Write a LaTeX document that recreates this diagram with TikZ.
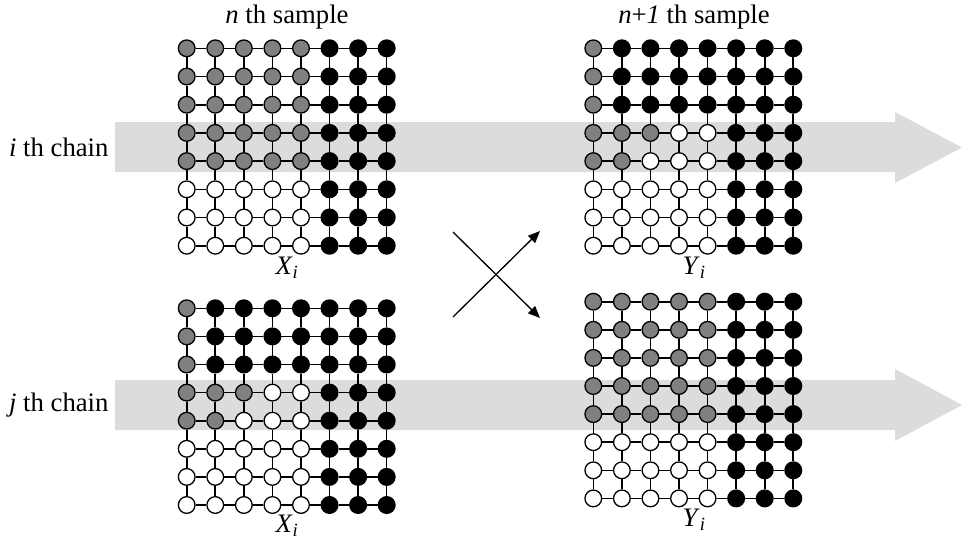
\documentclass[tikz,border=0pt]{standalone}
\usepackage{fontspec}
\setmainfont{Liberation Serif}
\usetikzlibrary{arrows.meta}

\definecolor{G}{HTML}{808080}
\colorlet{K}{black}
\colorlet{W}{white}
\definecolor{bandgray}{HTML}{DCDCDC}

\pgfdeclarelayer{bandlayer}
\pgfdeclarelayer{bondlayer}
\pgfsetlayers{bandlayer,bondlayer,main}

% one 8x8 lattice: name, x, y, row step, colour rows
\newcommand\lattice[5]{%
  \foreach \row [count=\r] in #5 {
    \foreach \s [count=\c] in \row {
      \node[site, fill=\s] (#1-\r-\c) at ({#2+(\c-1)*28.57}, {#3+(\r-1)*#4}) {};
    }
  }
  \begin{pgfonlayer}{bondlayer}
    \foreach \r in {1,...,8} {
      \foreach \c [evaluate=\c as \n using int(\c+1)] in {1,...,7} {
        \draw[bond] (#1-\r-\c) -- (#1-\r-\n);
        \draw[bond] (#1-\c-\r) -- (#1-\n-\r);
      }
    }
  \end{pgfonlayer}
}

\newcommand\stateA{{G,G,G,G,G,K,K,K},{G,G,G,G,G,K,K,K},{G,G,G,G,G,K,K,K},{G,G,G,G,G,K,K,K},{G,G,G,G,G,K,K,K},{W,W,W,W,W,K,K,K},{W,W,W,W,W,K,K,K},{W,W,W,W,W,K,K,K}}
\newcommand\stateB{{G,K,K,K,K,K,K,K},{G,K,K,K,K,K,K,K},{G,K,K,K,K,K,K,K},{G,G,G,W,W,K,K,K},{G,G,W,W,W,K,K,K},{W,W,W,W,W,K,K,K},{W,W,W,W,W,K,K,K},{W,W,W,W,W,K,K,K}}

\begin{document}
\begin{tikzpicture}[x=1pt, y=-1pt,
  every node/.style={font=\fontsize{26.7}{32}\selectfont},
  site/.style={circle, draw, line width=1.3pt, minimum size=16.7pt, inner sep=0pt},
  bond/.style={line width=1.6pt},
  band/.style={fill=bandgray},
  >={Triangle[length=12pt, width=10pt]}]
	\useasboundingbox (0,0) rectangle (962,539);
	% chains
	\begin{pgfonlayer}{bandlayer}
		\fill[band] (115,122) -- (895,122) -- (895,112) -- (962,147.5) -- (895,183) -- (895,172) -- (115,172) -- cycle;
		\fill[band] (115,380) -- (895,380) -- (895,369) -- (962,405) -- (895,441) -- (895,430) -- (115,430) -- cycle;
	\end{pgfonlayer}
	\node[anchor=east] (ichain) at (112,147) {\textit{i} th chain};
	\node[anchor=east] (jchain) at (112,405) {\textit{j} th chain};
	% samples
	\lattice{X}{186.7}{48.3}{28.2}{\stateA}
	\lattice{Y}{593.3}{48.3}{28.2}{\stateB}
	\lattice{U}{186.7}{308.3}{28.1}{\stateB}
	\lattice{V}{593.3}{301.7}{28.1}{\stateA}
	\node (nth) at (287,17) {\textit{n} th sample};
	\node (n1th) at (694,17) {\textit{n}+\textit{1} th sample};
	\node (lblX) at (287,268) {\textit{X}\textsubscript{\textit{i}}};
	\node (lblY) at (694,268) {\textit{Y}\textsubscript{\textit{i}}};
	\node (lblU) at (287,526) {\textit{X}\textsubscript{\textit{i}}};
	\node (lblV) at (694,520) {\textit{Y}\textsubscript{\textit{i}}};
	% exchange
	\coordinate (exA) at (453,232);
	\coordinate (exB) at (540,318);
	\coordinate (exC) at (453,317);
	\coordinate (exD) at (540,231);
	\draw[->, line width=1.3pt] (exA) -- (exB);
	\draw[->, line width=1.3pt] (exC) -- (exD);
\end{tikzpicture}
\end{document}
